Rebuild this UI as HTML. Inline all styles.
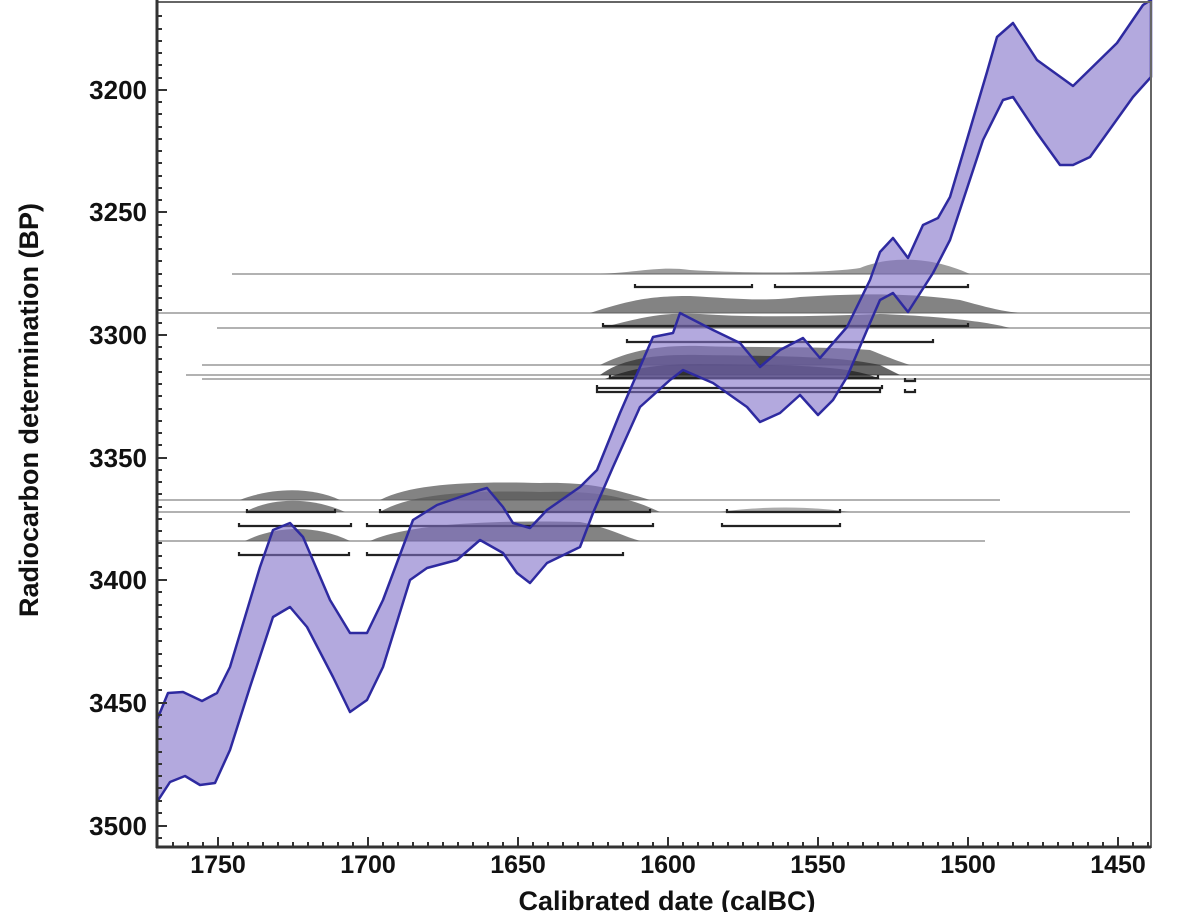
<!DOCTYPE html>
<html><head><meta charset="utf-8"><style>
html,body{margin:0;padding:0;background:#fff;}
svg{display:block;}
text{font-family:"Liberation Sans",Arial,sans-serif;font-weight:bold;fill:#111;}
</style></head><body>
<svg width="1179" height="912" viewBox="0 0 1179 912" xmlns="http://www.w3.org/2000/svg">
<rect width="1179" height="912" fill="#fff"/>
<g stroke="#999" stroke-width="1.6" fill="none">
<line x1="232" y1="274" x2="1151" y2="274"/>
<line x1="157" y1="313" x2="1151" y2="313"/>
<line x1="217" y1="328" x2="1151" y2="328"/>
<line x1="202" y1="365" x2="1151" y2="365"/>
<line x1="186" y1="375" x2="1151" y2="375"/>
<line x1="202" y1="379" x2="1151" y2="379"/>
<line x1="157" y1="500" x2="1000" y2="500"/>
<line x1="157" y1="512" x2="1130" y2="512"/>
<line x1="157" y1="541" x2="985" y2="541"/>
</g>
<g fill="#5a5a5a" fill-opacity="0.75">
<path d="M600,274 C640,272 660,266 690,270 C740,273 820,274 860,268 C890,256 930,256 970,274 Z" fill-opacity="0.6"/>
<path d="M590,313 C630,300 650,296 690,296 C730,298 760,302 800,297 C850,294 900,292 960,300 C990,308 1000,311 1020,313 Z"/>
<path d="M600,328 C640,318 660,312 700,314 C760,318 820,316 880,314 C940,316 990,322 1010,328 Z"/>
<path d="M600,365 C630,350 660,345 700,346 C760,348 820,346 870,350 C890,358 900,362 910,365 Z"/>
<path d="M600,375 C620,360 650,354 700,355 C780,356 840,356 880,365 L900,375 Z" fill="#333"/>
<path d="M605,379 C630,368 660,364 700,364 C790,365 850,365 880,379 Z" fill="#222"/>
<path d="M240,500 C270,488 310,486 340,500 Z"/>
<path d="M380,500 C410,484 470,481 540,483 C590,482 610,488 650,500 Z"/>
<path d="M245,512 C270,498 310,496 345,512 Z"/>
<path d="M380,512 C410,494 470,490 540,492 C600,490 630,498 660,512 Z"/>
<path d="M720,512 C760,506 810,506 850,512 Z" fill-opacity="0.5"/>
<path d="M245,541 C275,526 315,524 350,541 Z"/>
<path d="M370,541 C410,523 500,520 580,522 C610,528 620,535 640,541 Z"/>
</g>
<g stroke="#222" stroke-width="2.2" fill="none">
<path d="M635,284 v3 h117 v-3 M775,284 v3 h193 v-3"/>
<path d="M603,323 v3 h365 v-3"/>
<path d="M627,339 v3 h306 v-3"/>
<path d="M610,375 v3 h268 v-3"/>
<path d="M597,385 v3 h285 v-3"/>
<path d="M597,389 v3 h283 v-3"/>
<path d="M905,378 v3 h10 v-3 M905,389 v3 h10 v-3"/>
<path d="M247,509 v3 h88 v-3 M380,509 v3 h270 v-3 M727,509 v3 h113 v-3"/>
<path d="M239,523 v3 h112 v-3 M367,523 v3 h286 v-3 M722,523 v3 h118 v-3"/>
<path d="M239,552 v3 h110 v-3 M367,552 v3 h256 v-3"/>
</g>
<path fill="#8070c8" fill-opacity="0.6" stroke="#2e2aa0" stroke-width="2.5" stroke-linejoin="round" d="
M157,720 L168,693 L183,692 L202,701 L217,693 L230,667 L260,567 L273,530 L290,523 L303,537 L330,600 L350,633 L367,633 L383,600 L413,520 L437,505 L480,490 L487,488 L503,507 L513,523 L530,528 L547,510 L580,487 L597,470 L620,413 L653,337 L673,333 L680,313 L713,330 L740,343 L760,367 L780,350 L803,338 L820,358 L847,327 L870,280 L880,252 L893,238 L908,258 L923,225 L938,218 L950,197 L987,72 L997,37 L1013,23 L1037,60 L1073,86 L1117,43 L1143,5 L1151,0
L1151,77 L1133,97 L1090,157 L1073,165 L1060,165 L1037,133 L1013,97 L1003,100 L983,140 L950,240 L933,273 L908,312 L893,293 L880,300 L870,323 L847,377 L833,400 L818,415 L800,395 L780,413 L760,422 L747,407 L713,383 L683,370 L670,380 L640,407 L613,467 L593,513 L580,547 L547,563 L530,583 L517,573 L503,553 L480,540 L457,560 L427,568 L410,580 L383,667 L367,700 L350,712 L333,677 L307,627 L290,607 L273,617 L250,687 L230,750 L215,783 L200,785 L185,776 L170,782 L157,802 Z"/>
<rect x="157" y="2" width="994" height="845" fill="none" stroke="#666" stroke-width="2"/>
<line x1="157" y1="0" x2="157" y2="848" stroke="#333" stroke-width="3"/>
<line x1="156" y1="847" x2="1151" y2="847" stroke="#333" stroke-width="3"/>
<g font-size="26" text-anchor="end">
<text x="147" y="99">3200</text>
<text x="147" y="221">3250</text>
<text x="147" y="344">3300</text>
<text x="147" y="467">3350</text>
<text x="147" y="589">3400</text>
<text x="147" y="712">3450</text>
<text x="147" y="835">3500</text>
</g>
<g font-size="25" text-anchor="middle">
<text x="218" y="873">1750</text>
<text x="368" y="873">1700</text>
<text x="518" y="873">1650</text>
<text x="668" y="873">1600</text>
<text x="818" y="873">1550</text>
<text x="968" y="873">1500</text>
<text x="1118" y="873">1450</text>
</g>
<text x="667" y="910" font-size="27" text-anchor="middle">Calibrated date (calBC)</text>
<text transform="translate(38,410) rotate(-90)" font-size="27" text-anchor="middle">Radiocarbon determination (BP)</text>
<g stroke="#333" stroke-width="2">
<path d="
M157,90h10M157,212h10M157,335h10M157,458h10M157,580h10M157,703h10M157,826h10
M157,16h5M157,29h5M157,41h5M157,53h5M157,65h5M157,78h5M157,102h5M157,114h5M157,127h5M157,139h5M157,151h5M157,163h5M157,176h5M157,188h5M157,200h5
M157,225h5M157,237h5M157,249h5M157,261h5M157,274h5M157,286h5M157,298h5M157,310h5M157,323h5
M157,347h5M157,359h5M157,372h5M157,384h5M157,396h5M157,409h5M157,421h5M157,433h5M157,445h5
M157,470h5M157,482h5M157,494h5M157,507h5M157,519h5M157,531h5M157,543h5M157,556h5M157,568h5
M157,592h5M157,605h5M157,617h5M157,629h5M157,641h5M157,654h5M157,666h5M157,678h5M157,690h5
M157,715h5M157,727h5M157,739h5M157,752h5M157,764h5M157,776h5M157,788h5M157,801h5M157,813h5M157,838h5
M218,847v-10M368,847v-10M518,847v-10M668,847v-10M818,847v-10M968,847v-10M1118,847v-10
M173,847v-5M188,847v-5M203,847v-5M233,847v-5M248,847v-5M263,847v-5M278,847v-5M293,847v-5M308,847v-5M323,847v-5M338,847v-5M353,847v-5
M383,847v-5M398,847v-5M413,847v-5M428,847v-5M443,847v-5M458,847v-5M473,847v-5M488,847v-5M503,847v-5
M533,847v-5M548,847v-5M563,847v-5M578,847v-5M593,847v-5M608,847v-5M623,847v-5M638,847v-5M653,847v-5
M683,847v-5M698,847v-5M713,847v-5M728,847v-5M743,847v-5M758,847v-5M773,847v-5M788,847v-5M803,847v-5
M833,847v-5M848,847v-5M863,847v-5M878,847v-5M893,847v-5M908,847v-5M923,847v-5M938,847v-5M953,847v-5
M983,847v-5M998,847v-5M1013,847v-5M1028,847v-5M1043,847v-5M1058,847v-5M1073,847v-5M1088,847v-5M1103,847v-5
M1133,847v-5M1148,847v-5"/>
</g>
</svg>
</body></html>
